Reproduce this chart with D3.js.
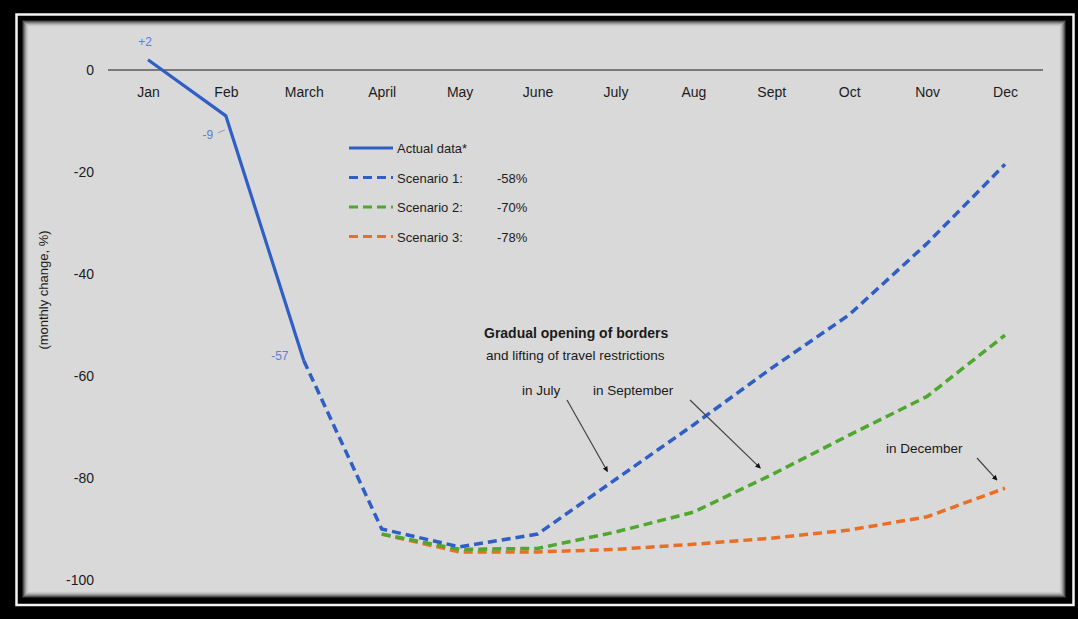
<!DOCTYPE html>
<html>
<head>
<meta charset="utf-8">
<script src="https://cdn.jsdelivr.net/npm/d3@7"></script>
<style>
  html, body { margin: 0; padding: 0; background: #000; }
  svg { display: block; font-family: "Liberation Sans", Arial, sans-serif; }
</style>
</head>
<body>
<svg id="chart"></svg>
<script>
// months on the x axis
var months = ["Jan", "Feb", "March", "April", "May", "June", "July", "Aug", "Sept", "Oct", "Nov", "Dec"];
var yTicks = [0, -20, -40, -60, -80, -100];

// actual data (Jan - March)
var actual = [2, -9, -57];
// scenario 1 continues from March, the others split off from April
var scenario1 = [null, null, -57, -90, -93.5, -91, -80.3, -69.6, -58.5, -48, -34, -18.5];
var scenario2 = [null, null, null, -91, -94, -93.8, -90.6, -86.7, -79.4, -71.6, -64, -52];
var scenario3 = [null, null, null, -91, -94.5, -94.5, -94, -93, -91.8, -90.2, -87.6, -82];

var legendNames = ["Actual data*", "Scenario 1:", "Scenario 2:", "Scenario 3:"];
var legendPct = ["", "-58%", "-70%", "-78%"];
var colors = ["#2f5fc6", "#2f5fc6", "#4ea72e", "#ea6f25"];

var width = 1078, height = 619;

var svg = d3.select("#chart")
    .attr("width", width)
    .attr("height", height);

// frame: black, thin white line, black, gray panel
svg.append("rect").attr("width", width).attr("height", height).attr("fill", "#000");
svg.append("rect")
    .attr("x", 16.5).attr("y", 14.5)
    .attr("width", 1057).attr("height", 590.5)
    .attr("fill", "none").attr("stroke", "#f4f4f4").attr("stroke-width", 2.5);
svg.append("rect")
    .attr("x", 22).attr("y", 20)
    .attr("width", 1044).attr("height", 578)
    .attr("fill", "#d9d9d9");
// inner shadow
for (var i = 0; i < 7; i++) {
  svg.append("rect")
      .attr("x", 22 + i + 0.5).attr("y", 20 + i + 0.5)
      .attr("width", 1044 - 2 * i - 1).attr("height", 578 - 2 * i - 1)
      .attr("fill", "none")
      .attr("stroke", "#000")
      .attr("stroke-opacity", 0.85 * Math.pow(1 - i / 7, 2));
}

var x = d3.scalePoint().domain(months).range([148, 1005]);
var y = d3.scaleLinear().domain([-100, 0]).range([580, 70]);

var g = svg.append("g");

// zero line
g.append("line")
    .attr("x1", 108).attr("x2", 1043)
    .attr("y1", y(0)).attr("y2", y(0))
    .attr("stroke", "#7a7a7a").attr("stroke-width", 2);

// month labels
var xAxis = g.append("g")
    .attr("transform", "translate(0," + y(0) + ")")
    .call(d3.axisBottom(x).tickSize(0).tickPadding(17));
xAxis.select(".domain").remove();
xAxis.selectAll("text")
    .attr("font-size", 14).attr("fill", "#1c1c1c")
    .style("font-family", "Liberation Sans, Arial, sans-serif");

// y labels
var yAxis = g.append("g")
    .attr("transform", "translate(94,0)")
    .call(d3.axisLeft(y).tickValues(yTicks).tickSize(0).tickPadding(0)
      .tickFormat(function(d) { return d === 0 ? "0" : "-" + Math.abs(d); }));
yAxis.select(".domain").remove();
yAxis.selectAll("text")
    .attr("font-size", 14).attr("fill", "#1c1c1c")
    .style("font-family", "Liberation Sans, Arial, sans-serif");

// y axis title
g.append("text")
    .attr("transform", "translate(48,290) rotate(-90)")
    .attr("text-anchor", "middle")
    .attr("font-size", 13).attr("fill", "#1c1c1c")
    .text("(monthly change, %)");

var line = d3.line()
    .defined(function(d) { return d != null; })
    .x(function(d, i) { return x(months[i]); })
    .y(function(d) { return y(d); });

// scenarios, orange under green under blue
[[scenario3, colors[3]], [scenario2, colors[2]], [scenario1, colors[1]]].forEach(function(s) {
  g.append("path")
      .attr("d", line(s[0]))
      .attr("fill", "none")
      .attr("stroke", s[1])
      .attr("stroke-width", 3.5)
      .attr("stroke-dasharray", "9,5");
});

// actual data
g.append("path")
    .attr("d", line(actual))
    .attr("fill", "none")
    .attr("stroke", colors[0])
    .attr("stroke-width", 3.2)
    .attr("stroke-linejoin", "round");

// data labels
var labelColor = "#5b80d6";
g.append("text").attr("x", x("Jan") - 3).attr("y", y(actual[0]) - 14)
    .attr("text-anchor", "middle").attr("font-size", 12).attr("fill", labelColor).text("+2");
g.append("text").attr("x", x("Feb") - 18).attr("y", y(actual[1]) + 23)
    .attr("text-anchor", "middle").attr("font-size", 12).attr("fill", labelColor).text("-9");
g.append("line")
    .attr("x1", x("Feb") - 8).attr("y1", y(actual[1]) + 17)
    .attr("x2", x("Feb") - 1).attr("y2", y(actual[1]) + 14)
    .attr("stroke", "#999").attr("stroke-width", 1);
g.append("text").attr("x", x("March") - 24).attr("y", y(actual[2]) - 1)
    .attr("text-anchor", "middle").attr("font-size", 12).attr("fill", labelColor).text("-57");

// legend
var legend = g.append("g").attr("transform", "translate(349,148)");
legendNames.forEach(function(name, i) {
  var row = legend.append("g").attr("transform", "translate(0," + (i * 29.5) + ")");
  row.append("line")
      .attr("x1", 0).attr("x2", 44)
      .attr("stroke", colors[i])
      .attr("stroke-width", 3.2)
      .attr("stroke-dasharray", i === 0 ? null : "9,5");
  row.append("text")
      .attr("x", 48).attr("y", 5)
      .attr("font-size", 13).attr("fill", "#1c1c1c")
      .text(name);
  row.append("text")
      .attr("x", 148).attr("y", 5)
      .attr("font-size", 13).attr("fill", "#1c1c1c")
      .text(legendPct[i]);
});

// annotations
g.append("text").attr("x", 484).attr("y", 338)
    .attr("font-size", 14).attr("font-weight", "bold").attr("fill", "#1a1a1a")
    .text("Gradual opening of borders");
g.append("text").attr("x", 486).attr("y", 360)
    .attr("font-size", 13.5).attr("fill", "#1a1a1a")
    .text("and lifting of travel restrictions");

var notes = [
  {text: "in July", tx: 522, ty: 395, x1: 567, y1: 400, m: "July", v: -80.3, dx: -8, dy: -8},
  {text: "in September", tx: 593, ty: 395, x1: 690, y1: 400, m: "Aug", v: -86.7, dx: 67, dy: -44},
  {text: "in December", tx: 886, ty: 453, x1: 977, y1: 458, m: "Dec", v: -82, dx: -8, dy: -8}
];

svg.append("defs").append("marker")
    .attr("id", "arrow")
    .attr("viewBox", "0 0 10 10")
    .attr("refX", 9).attr("refY", 5)
    .attr("markerWidth", 4.5).attr("markerHeight", 4.5)
    .attr("orient", "auto")
  .append("path")
    .attr("d", "M0,0L10,5L0,10z")
    .attr("fill", "#111");

notes.forEach(function(n) {
  g.append("text").attr("x", n.tx).attr("y", n.ty)
      .attr("font-size", 13.5).attr("fill", "#1a1a1a").text(n.text);
  g.append("line")
      .attr("x1", n.x1).attr("y1", n.y1)
      .attr("x2", x(n.m) + n.dx).attr("y2", y(n.v) + n.dy)
      .attr("stroke", "#444").attr("stroke-width", 1.2)
      .attr("marker-end", "url(#arrow)");
});
</script>
</body>
</html>
